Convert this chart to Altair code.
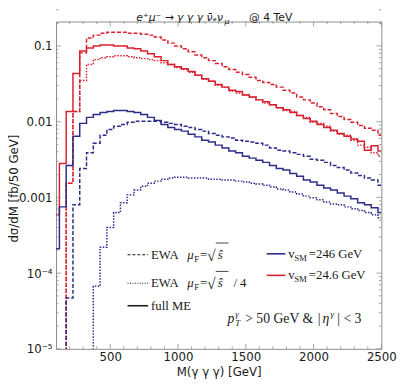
import altair as alt
import pandas as pd

# bin centres (50 GeV bins)
mass = list(range(100, 2501, 50))
B = 1e-7  # below the plotted range

red_ewa = [B, B, 0.00154, 0.0136, 0.081, 0.127, 0.139, 0.147, 0.152, 0.152, 0.152, 0.147, 0.147,
           0.143, 0.139, 0.131, 0.120, 0.109, 0.100, 0.092, 0.0836, 0.076, 0.070, 0.064, 0.0585,
           0.053, 0.0489, 0.045, 0.042, 0.0385, 0.035, 0.033, 0.031, 0.0286, 0.026, 0.0239, 0.0212,
           0.0194, 0.0177, 0.0157, 0.0144, 0.0128, 0.0117, 0.0107, 0.0098, 0.0089, 0.0082, 0.0077, 0.0066]
red_full = [0.00059, 0.0028, 0.0136, 0.0434, 0.086, 0.094, 0.100, 0.103, 0.103, 0.100, 0.100, 0.094,
            0.092, 0.086, 0.0788, 0.072, 0.064, 0.057, 0.053, 0.050, 0.0461, 0.0409, 0.037, 0.0342,
            0.031, 0.0286, 0.026, 0.025, 0.0225, 0.0212, 0.0194, 0.0183, 0.0167, 0.0153, 0.0144,
            0.0132, 0.0121, 0.0110, 0.0101, 0.0092, 0.0084, 0.0077, 0.0070, 0.0064, 0.0059, 0.0055,
            0.0042, 0.0048, 0.0041]
red_ewa4 = [B, B, 0.00154, 0.0136, 0.035, 0.057, 0.066, 0.070, 0.072, 0.074, 0.074, 0.072, 0.070,
            0.068, 0.066, 0.064, 0.060, 0.057, 0.0519, 0.0489, 0.045, 0.0409, 0.0363, 0.0342, 0.0303,
            0.0286, 0.0254, 0.0239, 0.0225, 0.021, 0.0194, 0.0177, 0.0167, 0.0153, 0.014, 0.0136,
            0.0121, 0.0114, 0.0098, 0.0095, 0.0087, 0.0075, 0.0068, 0.0066, 0.0057, 0.0049, 0.0046,
            0.0039, 0.0035]
blue_full = [0.00021, 0.00075, 0.00264, 0.0064, 0.0095, 0.0114, 0.0124, 0.0132, 0.0136, 0.0140,
             0.0140, 0.0136, 0.0132, 0.0124, 0.0114, 0.0104, 0.0092, 0.0084, 0.0079, 0.0075, 0.0068,
             0.0063, 0.0057, 0.0054, 0.0049, 0.0045, 0.0041, 0.0039, 0.0035, 0.0033, 0.0031, 0.0029,
             0.00264, 0.0024, 0.0023, 0.00207, 0.0019, 0.0017, 0.0016, 0.00145, 0.00133, 0.00125,
             0.00114, 0.00104, 0.00096, 0.00085, 0.0008, 0.00073, 0.00063]
blue_ewa = [B, B, 0.000047, 0.0008, 0.0024, 0.0039, 0.0052, 0.0066, 0.0079, 0.0087, 0.0092, 0.0098,
            0.0101, 0.0101, 0.0101, 0.0101, 0.0098, 0.0095, 0.0092, 0.0087, 0.0084, 0.0079, 0.0075,
            0.0070, 0.0066, 0.0063, 0.0061, 0.0057, 0.0055, 0.0054, 0.0052, 0.0049, 0.0045, 0.0042,
            0.0041, 0.0039, 0.0037, 0.0035, 0.0032, 0.0031, 0.0029, 0.00264, 0.00248, 0.0023, 0.0021,
            0.00195, 0.0018, 0.0017, 0.00145]
blue_ewa4 = [B, B, B, B, B, B, 0.000067, 0.00022, 0.0004, 0.00063, 0.00085, 0.00108, 0.00125, 0.0014,
             0.00154, 0.00164, 0.00174, 0.0018, 0.00184, 0.00184, 0.0018, 0.0018, 0.0018, 0.00174,
             0.00174, 0.0017, 0.0017, 0.00164, 0.0016, 0.00154, 0.0015, 0.00145, 0.00137, 0.00129,
             0.00125, 0.00118, 0.00111, 0.00104, 0.00099, 0.00093, 0.00087, 0.00082, 0.0008, 0.00075,
             0.00071, 0.00067, 0.00063, 0.00059, 0.00054]

x_major = [500, 1000, 1500, 2000, 2500]
x_minor = [m for m in range(200, 2500, 100) if m % 500 != 0]
y_major = [1e-5, 1e-4, 1e-3, 1e-2, 1e-1]
y_minor = [k * 10.0 ** e for e in range(-5, 0) for k in range(2, 10)] + [0.2]

RED = "#d9202f"
BLUE = "#2b2b8a"
GRAY = "#8c8c8c"
TXT = "#1a1a1a"
W, H = 332, 334

series = {
    "red_ewa": red_ewa, "red_full": red_full, "red_ewa4": red_ewa4,
    "blue_ewa": blue_ewa, "blue_full": blue_full, "blue_ewa4": blue_ewa4,
}
rows = []
for name, vals in series.items():
    for m, v in zip(mass, vals):
        rows.append({"M": m, "v": v, "s": name})
df = pd.DataFrame(rows)

order = list(series.keys())
colors = [RED, RED, RED, BLUE, BLUE, BLUE]
dashes = [[4, 2], [1, 0], [1.5, 1.5], [4, 2], [1, 0], [1.5, 1.5]]

xs = alt.Scale(domain=[100, 2500], nice=False, zero=False)
ys = alt.Scale(type="log", domain=[1e-5, 0.21], nice=False)

label_expr = ("datum.value > 0.05 ? '0.1' : datum.value > 0.005 ? '0.01' : "
              "datum.value > 0.0005 ? '0.001' : datum.value > 0.00005 ? '10⁻⁴' : '10⁻⁵'")

x_axis = alt.Axis(
    values=x_major, format="d", ticks=False, domain=False, grid=False, labelFlush=False,
    labelFont="DejaVu Sans", labelFontSize=12, labelPadding=3, labelColor=TXT,
    title="M(γ γ γ) [GeV]", titleFont="DejaVu Sans", titleFontSize=12,
    titleFontWeight="normal", titleColor=TXT, titlePadding=4)
y_axis = alt.Axis(
    values=y_major, labelExpr=label_expr, ticks=False, domain=False, grid=False,
    labelFlush=False, labelFont="DejaVu Sans", labelFontSize=12, labelPadding=4,
    labelColor=TXT, title="dσ/dM [fb/50 GeV]", titleFont="DejaVu Sans", titleFontSize=12,
    titleFontWeight="normal", titleColor=TXT, titleX=-43, titleY=170, titleAngle=270,
    titleBaseline="middle", titleAlign="center")

lines = alt.Chart(df).mark_line(interpolate="step", clip=True, strokeWidth=1.5).encode(
    x=alt.X("M:Q", scale=xs, axis=x_axis),
    y=alt.Y("v:Q", scale=ys, axis=y_axis),
    color=alt.Color("s:N", scale=alt.Scale(domain=order, range=colors), legend=None),
    strokeDash=alt.StrokeDash("s:N", scale=alt.Scale(domain=order, range=dashes), legend=None),
)


def xticks(vals, length):
    d = pd.DataFrame({"M": vals})
    bot = alt.Chart(d).mark_rule(color=GRAY, strokeWidth=0.8).encode(
        x=alt.X("M:Q", scale=xs, axis=x_axis), y=alt.value(H), y2=alt.value(H - length))
    top = alt.Chart(d).mark_rule(color=GRAY, strokeWidth=0.8).encode(
        x=alt.X("M:Q", scale=xs, axis=x_axis), y=alt.value(0), y2=alt.value(length))
    return [bot, top]


def yticks(vals, length):
    d = pd.DataFrame({"v": vals})
    lft = alt.Chart(d).mark_rule(color=GRAY, strokeWidth=0.8).encode(
        y=alt.Y("v:Q", scale=ys, axis=y_axis), x=alt.value(0), x2=alt.value(length))
    rgt = alt.Chart(d).mark_rule(color=GRAY, strokeWidth=0.8).encode(
        y=alt.Y("v:Q", scale=ys, axis=y_axis), x=alt.value(W), x2=alt.value(W - length))
    return [lft, rgt]


def T(s, x, y, size=13, font="Liberation Serif", style="normal", align="left"):
    return alt.Chart(alt.Data(values=[{}])).mark_text(
        text=s, font=font, fontSize=size, fontStyle=style, align=align,
        baseline="alphabetic", color=TXT).encode(x=alt.value(x), y=alt.value(y))


def R(x1, x2, y1, y2, color, width, dash=None):
    kw = dict(color=color, strokeWidth=width)
    if dash is not None:
        kw["strokeDash"] = dash
    return alt.Chart(alt.Data(values=[{}])).mark_rule(**kw).encode(
        x=alt.value(x1), x2=alt.value(x2), y=alt.value(y1), y2=alt.value(y2))


texts = [
    # title
    T("e⁺μ⁻ → γ γ γ ν̄ₑν", 82, -1, size=11, font="DejaVu Sans", style="italic"),
    T("μ", 172, 2, size=8, font="DejaVu Sans", style="italic"),
    T("@ 4 TeV", 197, -1, size=11, font="DejaVu Sans"),
    # legend: line styles
    R(73, 94, 238, 238, TXT, 1.1, [3, 2]),
    T("EWA", 97, 242),
    T("μ", 134, 242, style="italic"),
    T("F", 141, 245, size=9),
    T("=", 147, 242),
    T("√", 154, 244, size=16),
    T("ŝ", 165, 242, style="italic"),
    R(163, 176, 226, 226, TXT, 0.8),
    R(73, 94, 267, 267, TXT, 1.1, [1, 1.5]),
    T("EWA", 97, 271),
    T("μ", 134, 271, style="italic"),
    T("F", 141, 274, size=9),
    T("=", 147, 271),
    T("√", 154, 273, size=16),
    T("ŝ", 165, 271, style="italic"),
    R(163, 176, 255, 255, TXT, 0.8),
    T("/ 4", 181, 271),
    R(73, 94, 290, 290, TXT, 1.6),
    T("full ME", 97, 294),
    # legend: colours
    R(215, 234, 237, 237, BLUE, 1.6),
    T("v", 237, 241),
    T("SM", 243, 244, size=9),
    T("=246 GeV", 258, 241),
    R(215, 234, 259, 259, RED, 1.6),
    T("v", 237, 263),
    T("SM", 243, 266, size=9),
    T("=24.6 GeV", 258, 263),
    # cuts
    T("p", 175, 308, size=14, style="italic"),
    T("T", 183, 311, size=9, style="italic"),
    T("γ", 183, 301, size=9, style="italic"),
    T("> 50 GeV &", 193, 308, size=14),
    T("|", 267, 308, size=14),
    T("η", 272, 308, size=14, style="italic"),
    T("γ", 280, 302, size=9, style="italic"),
    T("| < 3", 287, 308, size=14),
]

layers = [lines]
layers += xticks(x_major, 5) + xticks(x_minor, 2.5)
layers += yticks(y_major, 5) + yticks(y_minor, 2.5)
layers += texts

chart = alt.layer(*layers).properties(
    width=W, height=H,
    autosize=alt.AutoSizeParams(type="none"),
    padding={"left": 49, "top": 10, "right": 18, "bottom": 30},
).configure_view(stroke=GRAY, strokeWidth=1)

chart.save("out.html", embed_options={"renderer": "svg", "actions": False})
